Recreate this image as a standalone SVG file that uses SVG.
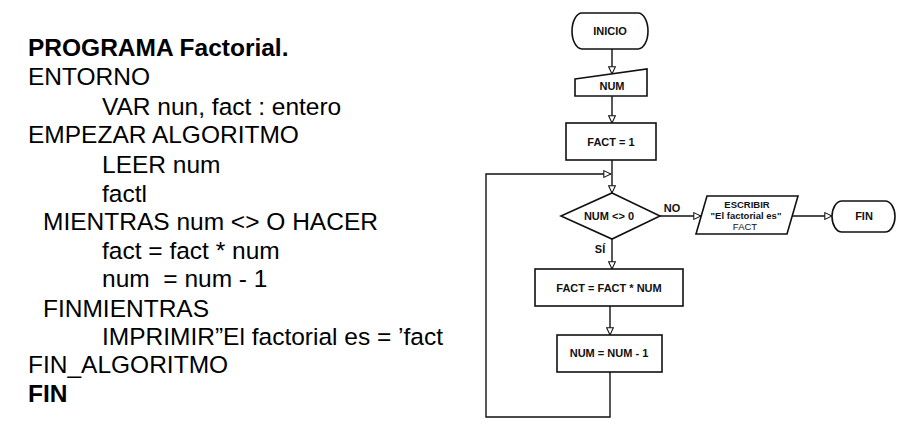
<svg xmlns="http://www.w3.org/2000/svg" width="913" height="441" viewBox="0 0 913 441">
<style>
.code{font-family:"Liberation Sans",Arial,sans-serif;font-size:24.5px;fill:#000;white-space:pre}
.b{font-weight:bold}
.fc{font-family:"Liberation Sans",Arial,sans-serif;font-size:11px;font-weight:bold;fill:#111;text-anchor:middle;dominant-baseline:central}
.sm{font-size:9.5px}
.shape{fill:#fff;stroke:#111;stroke-width:1.6}
.conn{fill:none;stroke:#111;stroke-width:1.4}
</style>
<defs>
<marker id="ah" viewBox="0 0 10 10" refX="9.5" refY="5" markerWidth="8" markerHeight="8" orient="auto" markerUnits="userSpaceOnUse">
<path d="M0.5,0.8 L9.5,5 L0.5,9.2 Z" fill="#fff" stroke="#111" stroke-width="1.3"/>
</marker>
</defs>
<rect width="913" height="441" fill="#fff"/>
<g id="pseudocode">
<text class="code b" x="28" y="56">PROGRAMA Factorial.</text>
<text class="code" x="28" y="85">ENTORNO</text>
<text class="code" x="102" y="115">VAR nun, fact : entero</text>
<text class="code" x="28" y="143">EMPEZAR ALGORITMO</text>
<text class="code" x="102" y="173">LEER num</text>
<text class="code" x="102" y="202">factl</text>
<text class="code" x="43" y="230">MIENTRAS num &lt;&gt; O HACER</text>
<text class="code" x="102" y="259">fact = fact * num</text>
<text class="code" x="102" y="287">num  = num - 1</text>
<text class="code" x="43" y="317">FINMIENTRAS</text>
<text class="code" x="102" y="345">IMPRIMIR”El factorial es = ’fact</text>
<text class="code" x="28" y="373">FIN_ALGORITMO</text>
<text class="code b" x="28" y="402">FIN</text>
</g>
<g id="connectors">
<line class="conn" x1="612" y1="49" x2="612" y2="74" marker-end="url(#ah)"/>
<line class="conn" x1="612" y1="96" x2="612" y2="123" marker-end="url(#ah)"/>
<line class="conn" x1="612" y1="160" x2="612" y2="193" marker-end="url(#ah)"/>
<line class="conn" x1="612" y1="239" x2="612" y2="269" marker-end="url(#ah)"/>
<line class="conn" x1="610" y1="306" x2="610" y2="335" marker-end="url(#ah)"/>
<polyline class="conn" points="610,372 610,417 486,417 486,174 611,174" marker-end="url(#ah)"/>
<line class="conn" x1="660" y1="216" x2="701" y2="216" marker-end="url(#ah)"/>
<line class="conn" x1="791" y1="216" x2="832" y2="216" marker-end="url(#ah)"/>
<text class="fc" x="672" y="208">NO</text>
<text class="fc" x="600" y="249">SÍ</text>
</g>
<g id="inicio">
<path class="shape" d="M582,13 H638 A10,18 0 0 1 638,49 H582 A10,18 0 0 1 582,13 Z"/>
<text class="fc" x="610" y="31">INICIO</text>
</g>
<g id="leer-num">
<path class="shape" d="M575,79 L647,69 L647,96 L575,96 Z"/>
<text class="fc" x="612" y="86">NUM</text>
</g>
<g id="fact-1">
<rect class="shape" x="566" y="123" width="90" height="37"/>
<text class="fc" x="611" y="142">FACT = 1</text>
</g>
<g id="decision">
<path class="shape" d="M612,193 L660,216 L612,239 L561,216 Z"/>
<text class="fc" x="609" y="216">NUM &lt;&gt; 0</text>
</g>
<g id="fact-mult">
<rect class="shape" x="535" y="269" width="148" height="37"/>
<text class="fc" x="609" y="288">FACT = FACT * NUM</text>
</g>
<g id="num-dec">
<rect class="shape" x="557" y="335" width="105" height="37"/>
<text class="fc" x="609" y="353">NUM = NUM - 1</text>
</g>
<g id="escribir">
<path class="shape" d="M707,196 L798,196 L787,234 L696,234 Z"/>
<text class="fc sm" x="747" y="204.5">ESCRIBIR</text>
<text class="fc sm" x="746" y="215.5">"El factorial es"</text>
<text class="fc sm" x="745" y="226.5" style="font-weight:normal">FACT</text>
</g>
<g id="fin">
<path class="shape" d="M842,201 H885 A10,15.5 0 0 1 885,232 H842 A10,15.5 0 0 1 842,201 Z"/>
<text class="fc" x="864" y="216">FIN</text>
</g>
</svg>
